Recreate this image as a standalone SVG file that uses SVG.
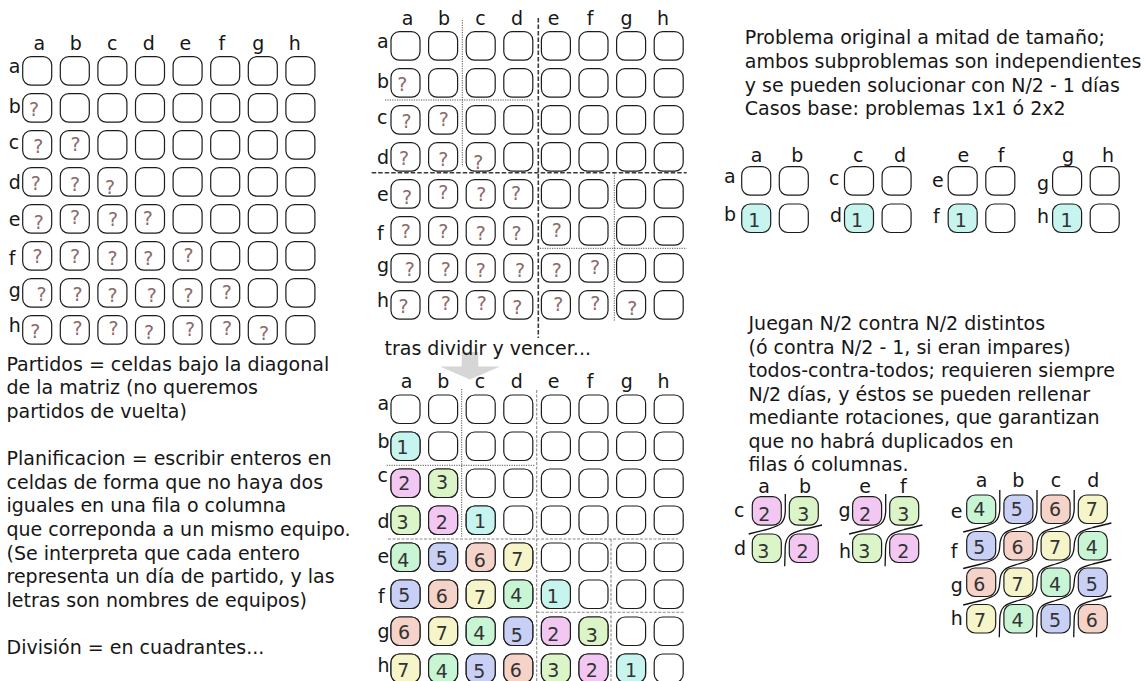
<svg xmlns="http://www.w3.org/2000/svg" width="1145" height="681" viewBox="0 0 1145 681">
<style>
text{font-family:"DejaVu Sans","Liberation Sans",sans-serif;font-size:19px;fill:#161616}
.m{text-anchor:middle}
.q{text-anchor:middle;fill:#8c6a6a}
.n{text-anchor:middle;fill:#333}
.cw{fill:#fff;stroke:#1c1c1c;stroke-width:1.2}
.cc{stroke:#1c1c1c;stroke-width:1.2}
.k1{fill:#c7f4ee}.k2{fill:#f2c8f2}.k3{fill:#dbf5c9}.k4{fill:#c8f5d3}.k5{fill:#c9d0f5}.k6{fill:#f5d3c9}.k7{fill:#f5f5c9}
.thick{fill:none;stroke:#3a3a3a;stroke-width:1.6;stroke-dasharray:4.5 2}
.dot{fill:none;stroke:#555;stroke-width:1;stroke-dasharray:1.2 1.2}
.dash{fill:none;stroke:#8a8a8a;stroke-width:1.1;stroke-dasharray:3 1.5}
.rot{fill:none;stroke:#111;stroke-width:1.3}
</style>
<defs>
<rect id="cell" width="29" height="28.5" rx="8.5"/>
<g id="row8"><use href="#cell"/><use href="#cell" x="37.6"/><use href="#cell" x="75.2"/><use href="#cell" x="112.8"/><use href="#cell" x="150.4"/><use href="#cell" x="188"/><use href="#cell" x="225.6"/><use href="#cell" x="263.2"/></g>
<g id="grid8"><use href="#row8"/><use href="#row8" y="37"/><use href="#row8" y="74"/><use href="#row8" y="111"/><use href="#row8" y="148"/><use href="#row8" y="185"/><use href="#row8" y="222"/><use href="#row8" y="259"/></g>
</defs>

<g id="matrix-original">
<use href="#grid8" class="cw" x="22.7" y="56.7"/>
<g class="m"><text x="39.3" y="50">a</text><text x="75.8" y="50">b</text><text x="112.3" y="50">c</text><text x="148.8" y="50">d</text><text x="185.3" y="50">e</text><text x="221.8" y="50">f</text><text x="258.3" y="50">g</text><text x="294.8" y="50">h</text></g>
<g><text x="8.8" y="72.7">a</text><text x="8.8" y="113.3">b</text><text x="8.8" y="149">c</text><text x="8.8" y="189.3">d</text><text x="8.8" y="226">e</text><text x="8.8" y="265">f</text><text x="8.8" y="296.7">g</text><text x="8.8" y="331.7">h</text></g>
<g id="qmarks">
<text class="q" x="34.0" y="116.4">?</text>
<text class="q" x="38.3" y="152.7">?</text><text class="q" x="75.5" y="150.7">?</text>
<text class="q" x="35.8" y="189.7">?</text><text class="q" x="75.0" y="191.4">?</text><text class="q" x="110.0" y="194.0">?</text>
<text class="q" x="38.8" y="228.7">?</text><text class="q" x="75.0" y="224.0">?</text><text class="q" x="113.0" y="226.0">?</text><text class="q" x="147.8" y="225.4">?</text>
<text class="q" x="37.5" y="263.4">?</text><text class="q" x="75.0" y="262.5">?</text><text class="q" x="112.5" y="265.0">?</text><text class="q" x="148.3" y="265.0">?</text><text class="q" x="188.5" y="261.7">?</text>
<text class="q" x="41.5" y="300.7">?</text><text class="q" x="77.5" y="300.7">?</text><text class="q" x="112.5" y="302.0">?</text><text class="q" x="151.8" y="302.0">?</text><text class="q" x="188.5" y="302.0">?</text><text class="q" x="226.8" y="298.7">?</text>
<text class="q" x="35.2" y="338.4">?</text><text class="q" x="77.5" y="335.0">?</text><text class="q" x="113.5" y="335.4">?</text><text class="q" x="149.0" y="338.7">?</text><text class="q" x="190.0" y="336.2">?</text><text class="q" x="227.0" y="335.4">?</text><text class="q" x="264.0" y="339.7">?</text>
</g>
</g>

<g id="text-left">
<text x="6.5" y="370.7">Partidos = celdas bajo la diagonal</text>
<text x="6.5" y="394.3">de la matriz (no queremos</text>
<text x="6.5" y="417.9">partidos de vuelta)</text>
<text x="6.5" y="465.1">Planificacion = escribir enteros en</text>
<text x="6.5" y="488.7">celdas de forma que no haya dos</text>
<text x="6.5" y="512.3">iguales en una fila o columna</text>
<text x="6.5" y="535.9">que correponda a un mismo equipo.</text>
<text x="6.5" y="559.5">(Se interpreta que cada entero</text>
<text x="6.5" y="583.1">representa un día de partido, y las</text>
<text x="6.5" y="606.7">letras son nombres de equipos)</text>
<text x="6.5" y="654">División = en cuadrantes...</text>
</g>

<g id="matrix-divided">
<use href="#matrix-original" x="368.3" y="-25"/>
</g>

<g id="connectors">
<path class="thick" d="M538.3,18 V338 M371.7,172.7 H686.7"/>
<path class="dot" d="M462.3,20 V166.7 M385,100 H533.3 M614.3,173 V321.7 M540,248.3 H686.7"/>
<path class="dot" d="M461.7,389 V537 M386.7,465.3 H535"/>
<path class="dash" d="M536.7,390 V681 M388,539 H678 M611,539 V681 M536.7,612.3 H685"/>
<polygon id="arrow" points="461.7,352 478.3,352 478.3,366.5 500,366.5 470,379.5 440,366.5 461.7,366.5" fill="#d6d6d6"/>
<path class="rot" d="M785.3,494 L785.3,511.25 c-0.5,14 -7.6,14.75 -18.6,18.25 l-18,4.5"/>
<path class="rot" d="M822,525 L803.8,529.5 c-11,3.5 -18.1,4.25 -18.6,18.25 l-0.5,18.5"/>
<path class="rot" d="M885.7,494 L885.7,511.25 c-0.5,14 -7.6,14.75 -18.6,18.25 l-18,4.5"/>
<path class="rot" d="M922.4,525 L904.2,529.5 c-11,3.5 -18.1,4.25 -18.6,18.25 l-0.5,18.5"/>
<path class="rot" d="M999.8,490 L999.8,509.25 c-0.5,14 -7.6,14.75 -18.6,18.25 l-18,4.5"/>
<path class="rot" d="M1037,490 L1037,509.25 c-0.5,14 -7.6,14.75 -18.6,18.25 c-11,3.5 -18.1,4.25 -18.6,18.25 c-0.5,14 -7.6,14.75 -18.6,18.25 l-18,4.5"/>
<path class="rot" d="M1074.2,490 L1074.2,509.25 c-0.5,14 -7.6,14.75 -18.6,18.25 c-11,3.5 -18.1,4.25 -18.6,18.25 c-0.5,14 -7.6,14.75 -18.6,18.25 c-11,3.5 -18.1,4.25 -18.6,18.25 c-0.5,14 -7.6,14.75 -18.6,18.25 l-18,4.5"/>
<path class="rot" d="M1111.4,523 L1092.8,527.5 c-11,3.5 -18.1,4.25 -18.6,18.25 c-0.5,14 -7.6,14.75 -18.6,18.25 c-11,3.5 -18.1,4.25 -18.6,18.25 c-0.5,14 -7.6,14.75 -18.6,18.25 c-11,3.5 -18.1,4.25 -18.6,18.25 l-0.5,18.5"/>
<path class="rot" d="M1111.4,559.5 L1092.8,564 c-11,3.5 -18.1,4.25 -18.6,18.25 c-0.5,14 -7.6,14.75 -18.6,18.25 c-11,3.5 -18.1,4.25 -18.6,18.25 l-0.5,18.5"/>
<path class="rot" d="M1111.4,596 L1092.8,600.5 c-11,3.5 -18.1,4.25 -18.6,18.25 l-0.5,18.5"/>
</g>

<text id="label-tras" x="384.5" y="355">tras dividir y vencer...</text>

<g id="matrix-solved">
<use href="#grid8" class="cw" x="391" y="395"/>
<use href="#cell" class="cc k1" x="391" y="432"/>
<use href="#cell" class="cc k2" x="391" y="469"/><use href="#cell" class="cc k3" x="428.6" y="469"/>
<use href="#cell" class="cc k3" x="391" y="506"/><use href="#cell" class="cc k2" x="428.6" y="506"/><use href="#cell" class="cc k1" x="466.2" y="506"/>
<use href="#cell" class="cc k4" x="391" y="543"/><use href="#cell" class="cc k5" x="428.6" y="543"/><use href="#cell" class="cc k6" x="466.2" y="543"/><use href="#cell" class="cc k7" x="503.8" y="543"/>
<use href="#cell" class="cc k5" x="391" y="580"/><use href="#cell" class="cc k6" x="428.6" y="580"/><use href="#cell" class="cc k7" x="466.2" y="580"/><use href="#cell" class="cc k4" x="503.8" y="580"/><use href="#cell" class="cc k1" x="541.4" y="580"/>
<use href="#cell" class="cc k6" x="391" y="617"/><use href="#cell" class="cc k7" x="428.6" y="617"/><use href="#cell" class="cc k4" x="466.2" y="617"/><use href="#cell" class="cc k5" x="503.8" y="617"/><use href="#cell" class="cc k2" x="541.4" y="617"/><use href="#cell" class="cc k3" x="579" y="617"/>
<use href="#cell" class="cc k7" x="391" y="654"/><use href="#cell" class="cc k4" x="428.6" y="654"/><use href="#cell" class="cc k5" x="466.2" y="654"/><use href="#cell" class="cc k6" x="503.8" y="654"/><use href="#cell" class="cc k3" x="541.4" y="654"/><use href="#cell" class="cc k2" x="579" y="654"/><use href="#cell" class="cc k1" x="616.6" y="654"/>
<g class="m"><text x="406.7" y="388.3">a</text><text x="443.4" y="388.3">b</text><text x="480.1" y="388.3">c</text><text x="516.8" y="388.3">d</text><text x="553.5" y="388.3">e</text><text x="590.2" y="388.3">f</text><text x="626.9" y="388.3">g</text><text x="663.6" y="388.3">h</text></g>
<g><text x="377.5" y="410">a</text><text x="377.5" y="448.3">b</text><text x="377.5" y="481.7">c</text><text x="377.5" y="528.3">d</text><text x="377.5" y="563.3">e</text><text x="378" y="603.3">f</text><text x="377.5" y="638.3">g</text><text x="377.5" y="671.7">h</text></g>
<text class="n" x="402.5" y="454.2">1</text>
<text class="n" x="404.2" y="490.3">2</text><text class="n" x="442" y="489.2">3</text>
<text class="n" x="402.5" y="529.2">3</text><text class="n" x="441.7" y="529.2">2</text><text class="n" x="480" y="528.2">1</text>
<text class="n" x="403.3" y="566.7">4</text><text class="n" x="441.7" y="565.3">5</text><text class="n" x="479.7" y="566.7">6</text><text class="n" x="517.2" y="565.8">7</text>
<text class="n" x="404.2" y="602">5</text><text class="n" x="441.7" y="602.5">6</text><text class="n" x="480" y="603.7">7</text><text class="n" x="516.3" y="602">4</text><text class="n" x="552.8" y="603">1</text>
<text class="n" x="404" y="638.7">6</text><text class="n" x="441.7" y="640">7</text><text class="n" x="479.2" y="640">4</text><text class="n" x="516.7" y="642">5</text><text class="n" x="553.3" y="640.7">2</text><text class="n" x="591.7" y="642">3</text>
<text class="n" x="403.3" y="677">7</text><text class="n" x="441.7" y="677.7">4</text><text class="n" x="479.2" y="678.2">5</text><text class="n" x="515.7" y="677">6</text><text class="n" x="553.3" y="677">3</text><text class="n" x="591.7" y="677">2</text><text class="n" x="631" y="677">1</text>
</g>

<g id="text-top-right">
<text x="744.8" y="44.3">Problema original a mitad de tamaño;</text>
<text x="744.8" y="67.9">ambos subproblemas son independientes</text>
<text x="744.8" y="91.5">y se pueden solucionar con N/2 - 1 días</text>
<text x="744.8" y="115.1">Casos base: problemas 1x1 ó 2x2</text>
</g>

<g id="base-cases">
<use href="#cell" class="cw" x="741.7" y="166.7"/><use href="#cell" class="cw" x="779.3" y="166.7"/><use href="#cell" class="cc k1" x="741.7" y="204"/><use href="#cell" class="cw" x="779.3" y="204"/>
<use href="#cell" class="cw" x="844.5" y="166.7"/><use href="#cell" class="cw" x="882.1" y="166.7"/><use href="#cell" class="cc k1" x="844.5" y="204"/><use href="#cell" class="cw" x="882.1" y="204"/>
<use href="#cell" class="cw" x="948.2" y="166.7"/><use href="#cell" class="cw" x="985.8" y="166.7"/><use href="#cell" class="cc k1" x="948.2" y="204"/><use href="#cell" class="cw" x="985.8" y="204"/>
<use href="#cell" class="cw" x="1052.6" y="166.7"/><use href="#cell" class="cw" x="1090.2" y="166.7"/><use href="#cell" class="cc k1" x="1052.6" y="204"/><use href="#cell" class="cw" x="1090.2" y="204"/>
<g class="m"><text x="756.7" y="161.7">a</text><text x="797.3" y="161.7">b</text><text x="858.3" y="161.7">c</text><text x="900" y="161.7">d</text><text x="963.3" y="161.7">e</text><text x="1001" y="161.7">f</text><text x="1068" y="161.7">g</text><text x="1108" y="161.7">h</text></g>
<text x="724" y="183.3">a</text><text x="724" y="220.7">b</text><text x="829" y="185">c</text><text x="830" y="221.7">d</text><text x="932" y="186.7">e</text><text x="933" y="222.7">f</text><text x="1037" y="190">g</text><text x="1037" y="223.3">h</text>
<text class="n" x="754.2" y="227">1</text><text class="n" x="857" y="227">1</text><text class="n" x="960.8" y="227">1</text><text class="n" x="1066.5" y="227">1</text>
</g>

<g id="text-bottom-right">
<text x="748.5" y="330">Juegan N/2 contra N/2 distintos</text>
<text x="748.5" y="353.5">(ó contra N/2 - 1, si eran impares)</text>
<text x="748.5" y="377">todos-contra-todos; requieren siempre</text>
<text x="748.5" y="400.5">N/2 días, y éstos se pueden rellenar</text>
<text x="748.5" y="424">mediante rotaciones, que garantizan</text>
<text x="748.5" y="447.5">que no habrá duplicados en</text>
<text x="748.5" y="471">filas ó columnas.</text>
</g>

<g id="rotation-2x2-ab">
<use href="#cell" class="cc k2" x="752.3" y="496.7"/><use href="#cell" class="cc k3" x="789.3" y="496.7"/><use href="#cell" class="cc k3" x="752.3" y="534"/><use href="#cell" class="cc k2" x="789.3" y="534"/>
<text class="m" x="764" y="493.3">a</text><text class="m" x="805" y="493.3">b</text><text x="734" y="516.7">c</text><text x="734" y="555">d</text>
<text class="n" x="764.2" y="521.2">2</text><text class="n" x="803.3" y="521.2">3</text><text class="n" x="763.3" y="557.8">3</text><text class="n" x="802.5" y="557.8">2</text>
</g>
<g id="rotation-2x2-ef">
<use href="#cell" class="cc k2" x="852.6" y="496.7"/><use href="#cell" class="cc k3" x="889.7" y="496.7"/><use href="#cell" class="cc k3" x="852.6" y="534"/><use href="#cell" class="cc k2" x="889.7" y="534"/>
<text class="m" x="865" y="493.3">e</text><text class="m" x="903.3" y="493.3">f</text><text x="838.5" y="516.7">g</text><text x="839" y="558.3">h</text>
<text class="n" x="865" y="521.2">2</text><text class="n" x="903.3" y="521.2">3</text><text class="n" x="864.2" y="557.8">3</text><text class="n" x="903.3" y="557.8">2</text>
</g>
<g id="rotation-4x4">
<use href="#cell" class="cc k4" x="966.7" y="495"/><use href="#cell" class="cc k5" x="1003.9" y="495"/><use href="#cell" class="cc k6" x="1041.1" y="495"/><use href="#cell" class="cc k7" x="1078.3" y="495"/>
<use href="#cell" class="cc k5" x="966.7" y="531.5"/><use href="#cell" class="cc k6" x="1003.9" y="531.5"/><use href="#cell" class="cc k7" x="1041.1" y="531.5"/><use href="#cell" class="cc k4" x="1078.3" y="531.5"/>
<use href="#cell" class="cc k6" x="966.7" y="568"/><use href="#cell" class="cc k7" x="1003.9" y="568"/><use href="#cell" class="cc k4" x="1041.1" y="568"/><use href="#cell" class="cc k5" x="1078.3" y="568"/>
<use href="#cell" class="cc k7" x="966.7" y="604.5"/><use href="#cell" class="cc k4" x="1003.9" y="604.5"/><use href="#cell" class="cc k5" x="1041.1" y="604.5"/><use href="#cell" class="cc k6" x="1078.3" y="604.5"/>
<g class="m"><text x="981.7" y="487.3">a</text><text x="1018.3" y="487.3">b</text><text x="1056" y="487.3">c</text><text x="1093.3" y="487.3">d</text></g>
<text x="950.7" y="518.3">e</text><text x="950.7" y="558.3">f</text><text x="950.7" y="591.7">g</text><text x="950.7" y="625">h</text>
<text class="n" x="979.2" y="516.2">4</text><text class="n" x="1016.7" y="516.2">5</text><text class="n" x="1055" y="516.2">6</text><text class="n" x="1091.7" y="516.2">7</text>
<text class="n" x="979.2" y="553.7">5</text><text class="n" x="1017.5" y="553.7">6</text><text class="n" x="1055" y="553.7">7</text><text class="n" x="1091.7" y="553.7">4</text>
<text class="n" x="979.2" y="590.5">6</text><text class="n" x="1017.5" y="590.5">7</text><text class="n" x="1055" y="590.5">4</text><text class="n" x="1091.7" y="590.5">5</text>
<text class="n" x="980" y="627">7</text><text class="n" x="1017.5" y="627">4</text><text class="n" x="1055" y="627">5</text><text class="n" x="1091.7" y="627">6</text>
</g>
</svg>
